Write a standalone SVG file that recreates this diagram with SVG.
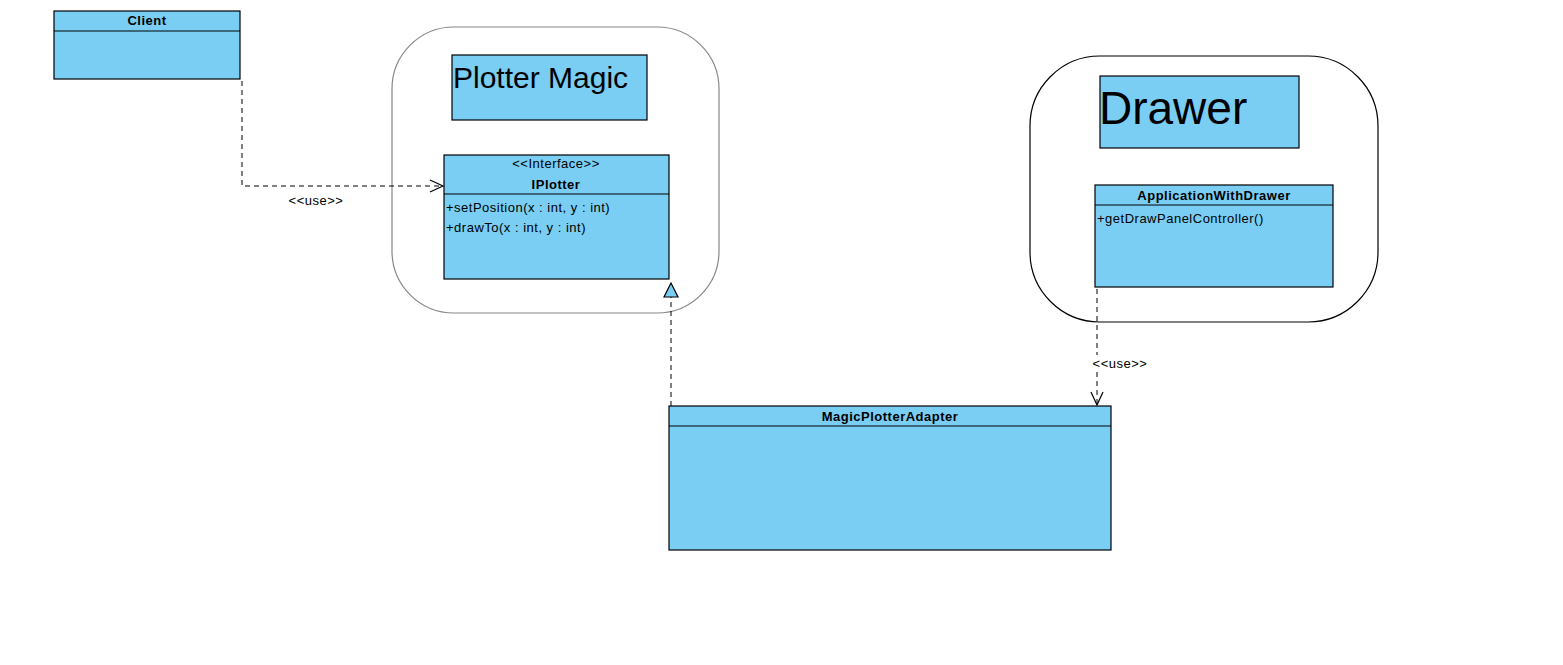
<svg xmlns="http://www.w3.org/2000/svg" width="1563" height="665" viewBox="0 0 1563 665">
<defs>
<style>
.box{fill:#7acef4;stroke:#000;stroke-width:1.2}
.ln{stroke:#000;stroke-width:1.2}
.t{font-family:"Liberation Sans",Arial,sans-serif;fill:#000}
.b{font-weight:bold;font-size:13px;letter-spacing:0.5px}
.s{font-size:13px;letter-spacing:0.5px}
.dash{fill:none;stroke:#000;stroke-width:1;stroke-dasharray:5,4}
</style>
<marker id="open" markerWidth="16" markerHeight="16" refX="14" refY="7" orient="auto" markerUnits="userSpaceOnUse">
<path d="M1,1 L14,7 L1,13" fill="none" stroke="#000" stroke-width="1.2"/>
</marker>
</defs>
<rect width="1563" height="665" fill="#fff"/>
<g id="pkg-plotter-magic">
<rect x="392" y="27" width="327" height="286" rx="62" ry="62" fill="#fff" stroke="#888" stroke-width="1.2"/>
<rect class="box" x="452" y="55" width="195" height="65"/>
<text class="t" x="453" y="88" font-size="30">Plotter Magic</text>
</g>
<g id="pkg-drawer">
<rect x="1030" y="56" width="348" height="266" rx="70" ry="70" fill="#fff" stroke="#000" stroke-width="1.2"/>
<rect class="box" x="1100" y="76" width="199" height="72"/>
<text class="t" x="1099" y="124" font-size="46">Drawer</text>
</g>
<g id="client">
<rect class="box" x="54" y="11" width="186" height="68"/>
<line class="ln" x1="54" y1="31" x2="240" y2="31"/>
<text class="t b" x="147" y="25" text-anchor="middle">Client</text>
</g>
<g id="iplotter">
<rect class="box" x="444" y="155" width="225" height="124"/>
<line class="ln" x1="444" y1="194" x2="669" y2="194"/>
<text class="t s" x="556" y="168" text-anchor="middle">&lt;&lt;Interface&gt;&gt;</text>
<text class="t b" x="556" y="189" text-anchor="middle">IPlotter</text>
<text class="t s" x="446" y="212">+setPosition(x : int, y : int)</text>
<text class="t s" x="446" y="232">+drawTo(x : int, y : int)</text>
</g>
<g id="application-with-drawer">
<rect class="box" x="1095" y="185" width="238" height="102"/>
<line class="ln" x1="1095" y1="205" x2="1333" y2="205"/>
<text class="t b" x="1214" y="200" text-anchor="middle">ApplicationWithDrawer</text>
<text class="t s" x="1097" y="223">+getDrawPanelController()</text>
</g>
<g id="magic-plotter-adapter">
<rect class="box" x="669" y="406" width="442" height="144"/>
<line class="ln" x1="669" y1="426" x2="1111" y2="426"/>
<text class="t b" x="890" y="421" text-anchor="middle">MagicPlotterAdapter</text>
</g>
<g id="connectors">
<path class="dash" d="M242,81 V186 H443" marker-end="url(#open)"/>
<text class="t s" x="316" y="205" text-anchor="middle">&lt;&lt;use&gt;&gt;</text>
<path class="dash" d="M671,406 V297"/>
<path d="M671,283 L664,297 L678,297 Z" fill="#7acef4" stroke="#000" stroke-width="1.2"/>
<path class="dash" d="M1097,289 V355"/>
<path class="dash" d="M1097,372 V405" marker-end="url(#open)"/>
<text class="t s" x="1120" y="368" text-anchor="middle">&lt;&lt;use&gt;&gt;</text>
</g>
</svg>
